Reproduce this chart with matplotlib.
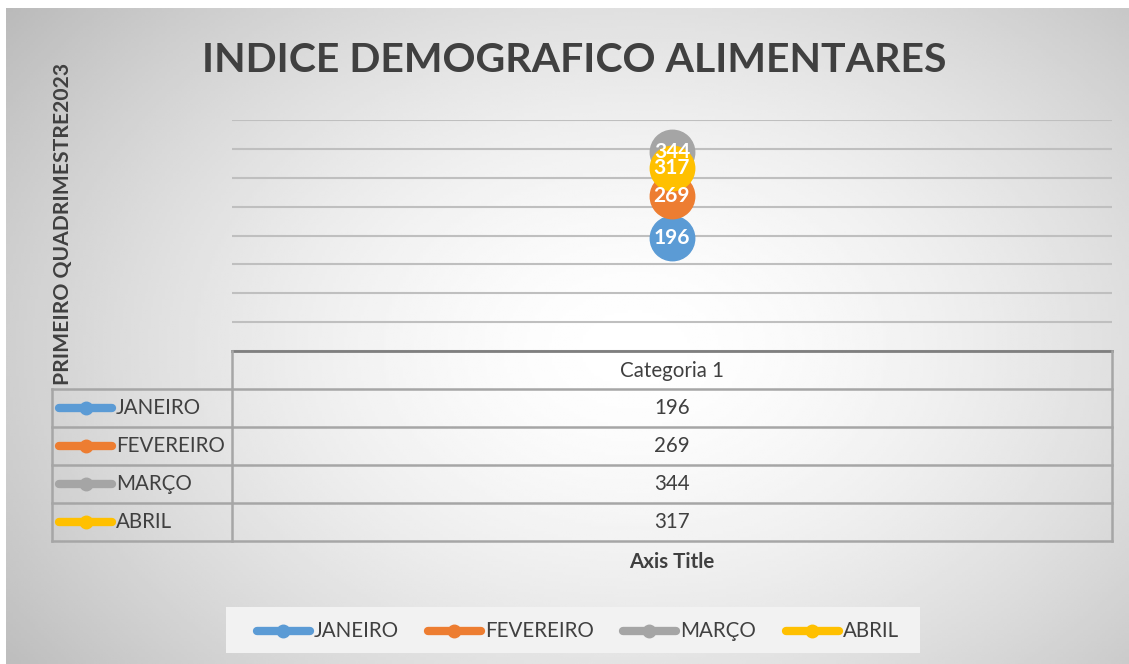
import numpy as np
import matplotlib.pyplot as plt
from matplotlib.lines import Line2D
from matplotlib.patches import Rectangle

plt.rcParams['font.family'] = ['Lato', 'DejaVu Sans']

# data
months = ['JANEIRO', 'FEVEREIRO', 'MARÇO', 'ABRIL']
values = [196, 269, 344, 317]
colors = ['#5B9BD5', '#ED7D31', '#A5A5A5', '#FFC000']
category = 'Categoria 1'
yticks = [0, 50, 100, 150, 200, 250, 300, 350, 400]

W, H = 1129, 664
fig = plt.figure(figsize=(W / 100, H / 100), dpi=100)
fig.patch.set_facecolor('white')

def fx(px):
    return px / W

def fy(py):
    return 1 - py / H

# radial gradient background
bg = fig.add_axes([fx(6), 0, 1 - fx(6), fy(8)])
bg.set_axis_off()
gx, gy = np.meshgrid(np.linspace(0, 1, 400), np.linspace(0, 1, 240))
r = np.sqrt(((gx - 0.56) / 0.62) ** 2 + ((gy - 0.52) / 0.75) ** 2)
shade = 1 - 0.22 * np.clip(r, 0, 1.3) ** 1.6
bg.imshow(shade, cmap='gray', vmin=0, vmax=1, aspect='auto', extent=[0, 1, 0, 1])
bg.set_xlim(0, 1)
bg.set_ylim(0, 1)

text_col = '#404040'
grid_col = '#bfbfbf'
fs = 14.8

# main plot area
ax = fig.add_axes([fx(232), fy(351), fx(1112) - fx(232), fy(120) - fy(351)])
ax.patch.set_alpha(0)
ax.set_xlim(-0.5, 0.5)
ax.set_ylim(0, 400)
ax.set_yticks(yticks)
ax.set_xticks([])
ax.tick_params(left=False, labelleft=False)
for s in ['top', 'right', 'left']:
    ax.spines[s].set_visible(False)
ax.spines['bottom'].set_color('#7f7f7f')
ax.spines['bottom'].set_linewidth(2)
ax.grid(axis='y', color=grid_col, linewidth=1.5)
ax.set_axisbelow(True)

for m, v, c in zip(months, values, colors):
    ax.plot([0], [v], marker='o', markersize=32, color=c, linestyle='none', zorder=3)
for v in values:
    ax.text(0, v, str(v), ha='center', va='center', color='white',
            fontsize=15, fontweight='bold', zorder=4)

# data table
lc = '#a6a6a6'
lw = 1.8
row_tops = [389, 427, 465, 503, 541]
fig.add_artist(Line2D([fx(232), fx(232)], [fy(351), fy(541)], color=lc, lw=lw))
fig.add_artist(Line2D([fx(1112), fx(1112)], [fy(351), fy(541)], color=lc, lw=lw))
fig.add_artist(Line2D([fx(52), fx(52)], [fy(389), fy(541)], color=lc, lw=lw))
for yy in row_tops:
    fig.add_artist(Line2D([fx(52), fx(1112)], [fy(yy), fy(yy)], color=lc, lw=lw))
fig.text(fx(672), fy(371), category, ha='center', va='center', fontsize=fs, color=text_col)
for i, (m, v, c) in enumerate(zip(months, values, colors)):
    yc = fy(row_tops[i] + 19)
    fig.add_artist(Line2D([fx(59), fx(112)], [yc, yc], color=c, lw=6, solid_capstyle='round'))
    fig.add_artist(Line2D([fx(86)], [yc], marker='o', markersize=9, color=c))
    fig.text(fx(116), yc, m, ha='left', va='center', fontsize=fs, color=text_col)
    fig.text(fx(672), yc, str(v), ha='center', va='center', fontsize=fs, color=text_col)

# axis titles
fig.text(fx(672), fy(562), 'Axis Title', ha='center', va='center', fontsize=fs,
         fontweight='bold', color=text_col)
fig.text(fx(63), fy(224), 'PRIMEIRO QUADRIMESTRE2023', ha='center', va='center',
         rotation=90, fontsize=15.2, fontweight='bold', color=text_col)
fig.text(fx(574), fy(60), 'INDICE DEMOGRAFICO ALIMENTARES', ha='center', va='center',
         fontsize=29.5, fontweight='bold', color=text_col)

# legend
fig.add_artist(Rectangle((fx(226), fy(653)), fx(920) - fx(226), fy(607) - fy(653),
                         transform=fig.transFigure, facecolor='#f2f2f2', edgecolor='none'))
leg_x = [255, 426, 621, 784]
yl = fy(631)
for x0, m, c in zip(leg_x, months, colors):
    fig.add_artist(Line2D([fx(x0 + 2), fx(x0 + 55)], [yl, yl], color=c, lw=6, solid_capstyle='round'))
    fig.add_artist(Line2D([fx(x0 + 28)], [yl], marker='o', markersize=9, color=c))
    fig.text(fx(x0 + 59), yl, m, ha='left', va='center', fontsize=fs, color=text_col)

fig.savefig('out.png', dpi=100)
